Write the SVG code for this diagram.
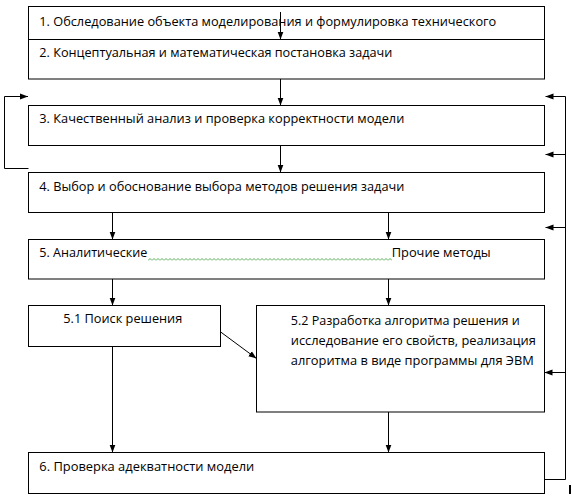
<svg xmlns="http://www.w3.org/2000/svg" width="572" height="498" viewBox="0 0 572 498">
<style>
.box{fill:#fff;stroke:#000;stroke-width:1}
.t{font-family:"Open Sans","Noto Sans","DejaVu Sans",sans-serif;font-size:13.5px;fill:#000}
.c{fill:none;stroke:#000;stroke-width:1}
.a{marker-end:url(#ah)}
</style>
<defs>
<marker id="ah" viewBox="0 0 8 6" refX="8" refY="3" markerWidth="8" markerHeight="6.5" markerUnits="userSpaceOnUse" orient="auto">
<path d="M0,0 L8,3 L0,6 z" fill="#000"/>
</marker>
<pattern id="wave" patternUnits="userSpaceOnUse" x="148" y="258" width="4" height="3">
<path d="M0,2.5 L2,0.5 L4,2.5" fill="none" stroke="#2e9a2e" stroke-width="0.8"/>
</pattern>
</defs>
<rect width="572" height="498" fill="#fff"/>
<g id="n1">
<rect class="box" x="28.5" y="6.5" width="516" height="40"/>
<text class="t" x="39.3" y="26" textLength="457" lengthAdjust="spacingAndGlyphs">1. Обследование объекта моделирования и формулировка технического</text>
</g>
<g id="n2">
<rect class="box" x="28.5" y="39.5" width="516" height="39.5"/>
<text class="t" x="39.3" y="56.7" textLength="353" lengthAdjust="spacingAndGlyphs">2. Концептуальная и математическая постановка задачи</text>
</g>
<g id="n3">
<rect class="box" x="28.5" y="105.5" width="516" height="40"/>
<text class="t" x="39.3" y="123.3" textLength="365" lengthAdjust="spacingAndGlyphs">3. Качественный анализ и проверка корректности модели</text>
</g>
<g id="n4">
<rect class="box" x="28.5" y="172.5" width="516" height="40"/>
<text class="t" x="39.3" y="190.7" textLength="365" lengthAdjust="spacingAndGlyphs">4. Выбор и обоснование выбора методов решения задачи</text>
</g>
<g id="n5">
<rect class="box" x="28.5" y="239.5" width="516" height="39.5"/>
<text class="t" x="39.3" y="257.3" textLength="108" lengthAdjust="spacingAndGlyphs">5. Аналитические</text>
<rect x="148" y="258" width="244" height="3" fill="url(#wave)"/>
<text class="t" x="391.7" y="257.3" textLength="99" lengthAdjust="spacingAndGlyphs">Прочие методы</text>
</g>
<g id="n51">
<rect class="box" x="28.5" y="305.5" width="192" height="41"/>
<text class="t" x="63.3" y="323.3" textLength="119" lengthAdjust="spacingAndGlyphs">5.1 Поиск решения</text>
</g>
<g id="n52">
<rect class="box" x="256.5" y="305.5" width="288" height="106.5"/>
<text class="t" x="290.8" y="325" textLength="229" lengthAdjust="spacingAndGlyphs">5.2 Разработка алгоритма решения и</text>
<text class="t" x="290.8" y="345.3" textLength="245" lengthAdjust="spacingAndGlyphs">исследование его свойств, реализация</text>
<text class="t" x="290.8" y="364.7" textLength="243" lengthAdjust="spacingAndGlyphs">алгоритма в виде программы для ЭВМ</text>
</g>
<g id="n6">
<rect class="box" x="28.5" y="452.5" width="516" height="41"/>
<text class="t" x="39.3" y="470.7" textLength="215" lengthAdjust="spacingAndGlyphs">6. Проверка адекватности модели</text>
</g>
<g id="connectors">
<path class="c a" d="M280.5,12 V39.5"/>
<path class="c a" d="M280.5,79 V105.5"/>
<path class="c a" d="M280.5,145.5 V172.5"/>
<path class="c a" d="M112.5,212.5 V239.5"/>
<path class="c a" d="M388.5,212.5 V239.5"/>
<path class="c a" d="M112.5,279 V305.5"/>
<path class="c a" d="M388.5,279 V305.5"/>
<path class="c a" d="M220.7,332 L256.5,358.5"/>
<path class="c a" d="M112.5,346.5 V452.5"/>
<path class="c a" d="M388.5,412 V452.5"/>
<path class="c a" d="M28.5,168.5 H4.5 V96.5 H28"/>
<path class="c" d="M544.5,479.5 H565.5 V96.5"/>
<path class="c a" d="M565.5,96.5 H545.5"/>
<path class="c a" d="M565.5,154.5 H545.5"/>
<path class="c a" d="M565.5,227.5 H545.5"/>
<path class="c a" d="M565.5,372.5 H544.5"/>
</g>
<rect x="569" y="485" width="2" height="9" fill="#000"/>
</svg>
